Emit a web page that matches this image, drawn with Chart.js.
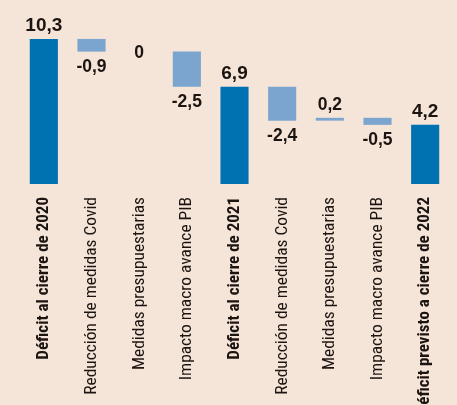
<!DOCTYPE html>
<html>
<head>
<meta charset="utf-8">
<script src="https://cdn.jsdelivr.net/npm/chart.js@4"></script>
<style>
html, body { margin: 0; padding: 0; background: #f5e5d9; overflow: hidden; }
#wrap { position: relative; width: 457px; height: 405px; }
</style>
</head>
<body>
<div id="wrap"><canvas id="chartCanvas"></canvas></div>
<script>
// Chart data
const categories = [
    'Déficit al cierre de 2020',
    'Reducción de medidas Covid',
    'Medidas presupuestarias',
    'Impacto macro avance PIB',
    'Déficit al cierre de 2021',
    'Reducción de medidas Covid',
    'Medidas presupuestarias',
    'Impacto macro avance PIB',
    'Déficit previsto a cierre de 2022'
];
const values = [10.3, -0.9, 0, -2.5, 6.9, -2.4, 0.2, -0.5, 4.2];
const isTotal = [true, false, false, false, true, false, false, false, true];

const DARK = '#0072b2', LIGHT = '#7ba5cf', TEXT = '#1c1410';
const CONDENSED = '"Roboto Condensed", "DejaVu Sans Condensed", sans-serif';

// build floating ranges for the waterfall
let running = 0;
const ranges = values.map((v, i) => {
    if (isTotal[i]) { running = v; return [0, v]; }
    const r = [running, running + v];
    running += v;
    return r;
});

const fmt = v => String(v).replace('.', ',');

const valueLabels = {
    id: 'valueLabels',
    afterDatasetsDraw(chart) {
        const ctx = chart.ctx;
        const meta = chart.getDatasetMeta(0);
        ctx.save();
        ctx.fillStyle = TEXT;
        ctx.textAlign = 'center';
        ctx.textBaseline = 'alphabetic';
        meta.data.forEach((bar, i) => {
            const v = values[i];
            const top = Math.min(bar.y, bar.base);
            const bottom = Math.max(bar.y, bar.base);
            let y;
            if (v === 0) y = top + 6;
            else if (v > 0) y = top - 8;
            else y = bottom + 20;
            ctx.font = (isTotal[i] ? 'bold 19px' : 'bold 17.5px') + ' "Liberation Sans", Arial, sans-serif';
            ctx.fillText(fmt(v), bar.x, y);
        });
        ctx.restore();
    }
};

const ctx = document.getElementById('chartCanvas').getContext('2d');
window.chart = new Chart(ctx, {
    type: 'bar',
    data: {
        labels: categories,
        datasets: [{
            data: ranges,
            backgroundColor: values.map((v, i) => isTotal[i] ? DARK : LIGHT),
            borderWidth: 0,
            categoryPercentage: 1,
            barPercentage: 0.59
        }]
    },
    options: {
        responsive: true,
        maintainAspectRatio: false,
        animation: false,
        layout: { padding: { top: 15, left: 20, right: 8, bottom: 0 } },
        plugins: { legend: { display: false }, tooltip: { enabled: false } },
        scales: {
            x: {
                grid: { display: false },
                border: { display: false },
                afterFit: s => { s.height = 221; },
                ticks: {
                    autoSkip: false,
                    minRotation: 90,
                    maxRotation: 90,
                    padding: 5,
                    color: TEXT,
                    font: c => isTotal[c.index]
                        ? { family: CONDENSED, size: 17, weight: 'bold' }
                        : { family: CONDENSED, size: 17.4, weight: 'normal' }
                }
            },
            y: { display: false, min: 0, max: 12 }
        }
    },
    plugins: [valueLabels]
});
</script>
</body>
</html>
